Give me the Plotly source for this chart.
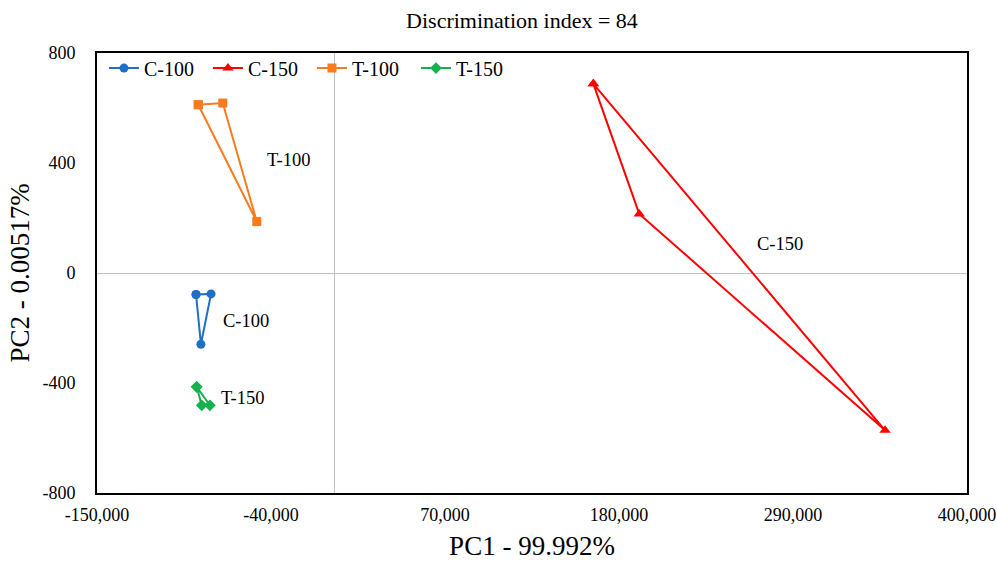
import plotly.graph_objects as go

# Data (closed polygons: first point repeated)
c100_x = [-87400, -77900, -84300, -87400]
c100_y = [-78, -76, -259, -78]
c150_x = [163800, 192800, 348200, 163800]
c150_y = [688, 215, -572, 688]
t100_x = [-86000, -70500, -49000, -86000]
t100_y = [612, 618, 187, 612]
t150_x = [-87000, -78600, -83800, -87000]
t150_y = [-414, -481, -481, -414]

labels = ["T-100", "C-100", "T-150", "C-150"]
label_x = [-28600, -55800, -57700, 281800]
label_y = [411, -175, -455, 106]

x_ticks = [-150000, -40000, 70000, 180000, 290000, 400000]
y_ticks = [-800, -400, 0, 400, 800]

FONT = "Liberation Serif, Times New Roman, serif"

fig = go.Figure()
series = [
    ("C-100", c100_x, c100_y, "#1F6FC5", "circle", 9),
    ("C-150", c150_x, c150_y, "#FF0000", "triangle-up", 10),
    ("T-100", t100_x, t100_y, "#F97B1E", "square", 9),
    ("T-150", t150_x, t150_y, "#16B04E", "diamond", 9),
]
for name, xs, ys, col, sym, sz in series:
    fig.add_trace(go.Scatter(x=xs, y=ys, mode="lines+markers", name=name,
                             line=dict(color=col, width=2),
                             marker=dict(color=col, symbol=sym, size=sz)))

for t, x, y in zip(labels, label_x, label_y):
    fig.add_annotation(x=x, y=y, text=t, showarrow=False,
                       font=dict(family=FONT, size=18.5, color="black"))

W, H = 997, 561
fig.update_layout(
    width=W, height=H,
    paper_bgcolor="white", plot_bgcolor="white",
    margin=dict(l=97, r=30, t=53, b=68),
    title=dict(text="Discrimination index = 84", x=522 / W, xanchor="center",
               y=1 - 20 / H, yanchor="middle",
               font=dict(family=FONT, size=22, color="black")),
    font=dict(family=FONT, color="black"),
    legend=dict(orientation="h", x=0.008, y=1.01, xanchor="left", yanchor="top",
                font=dict(family=FONT, size=20, color="black"),
                bgcolor="rgba(0,0,0,0)", entrywidth=59, entrywidthmode="pixels",
                tracegroupgap=0),
    showlegend=True,
)
fig.update_xaxes(range=[-150000, 400000], tickvals=x_ticks,
                 ticktext=[f"{v:,}" for v in x_ticks],
                 showgrid=False, zeroline=True, zerolinecolor="#BFBFBF", zerolinewidth=1,
                 showline=True, linecolor="black", linewidth=2, mirror=True,
                 ticks="", ticklabelstandoff=4, automargin=False,
                 tickfont=dict(family=FONT, size=18, color="black"),
                 title=dict(text="PC1 - 99.992%", font=dict(family=FONT, size=27, color="black"),
                            standoff=16))
fig.update_yaxes(range=[-800, 800], tickvals=y_ticks,
                 ticktext=[str(v) for v in y_ticks],
                 showgrid=False, zeroline=True, zerolinecolor="#BFBFBF", zerolinewidth=1,
                 showline=True, linecolor="black", linewidth=2, mirror=True,
                 ticks="", ticklabelstandoff=16, automargin=False,
                 tickfont=dict(family=FONT, size=18, color="black"),
                 title=dict(text="PC2 - 0.00517%", font=dict(family=FONT, size=27, color="black"),
                            standoff=5))

fig.write_html("out.html", config={"displayModeBar": False},
               post_script="document.body.style.margin='0';")
